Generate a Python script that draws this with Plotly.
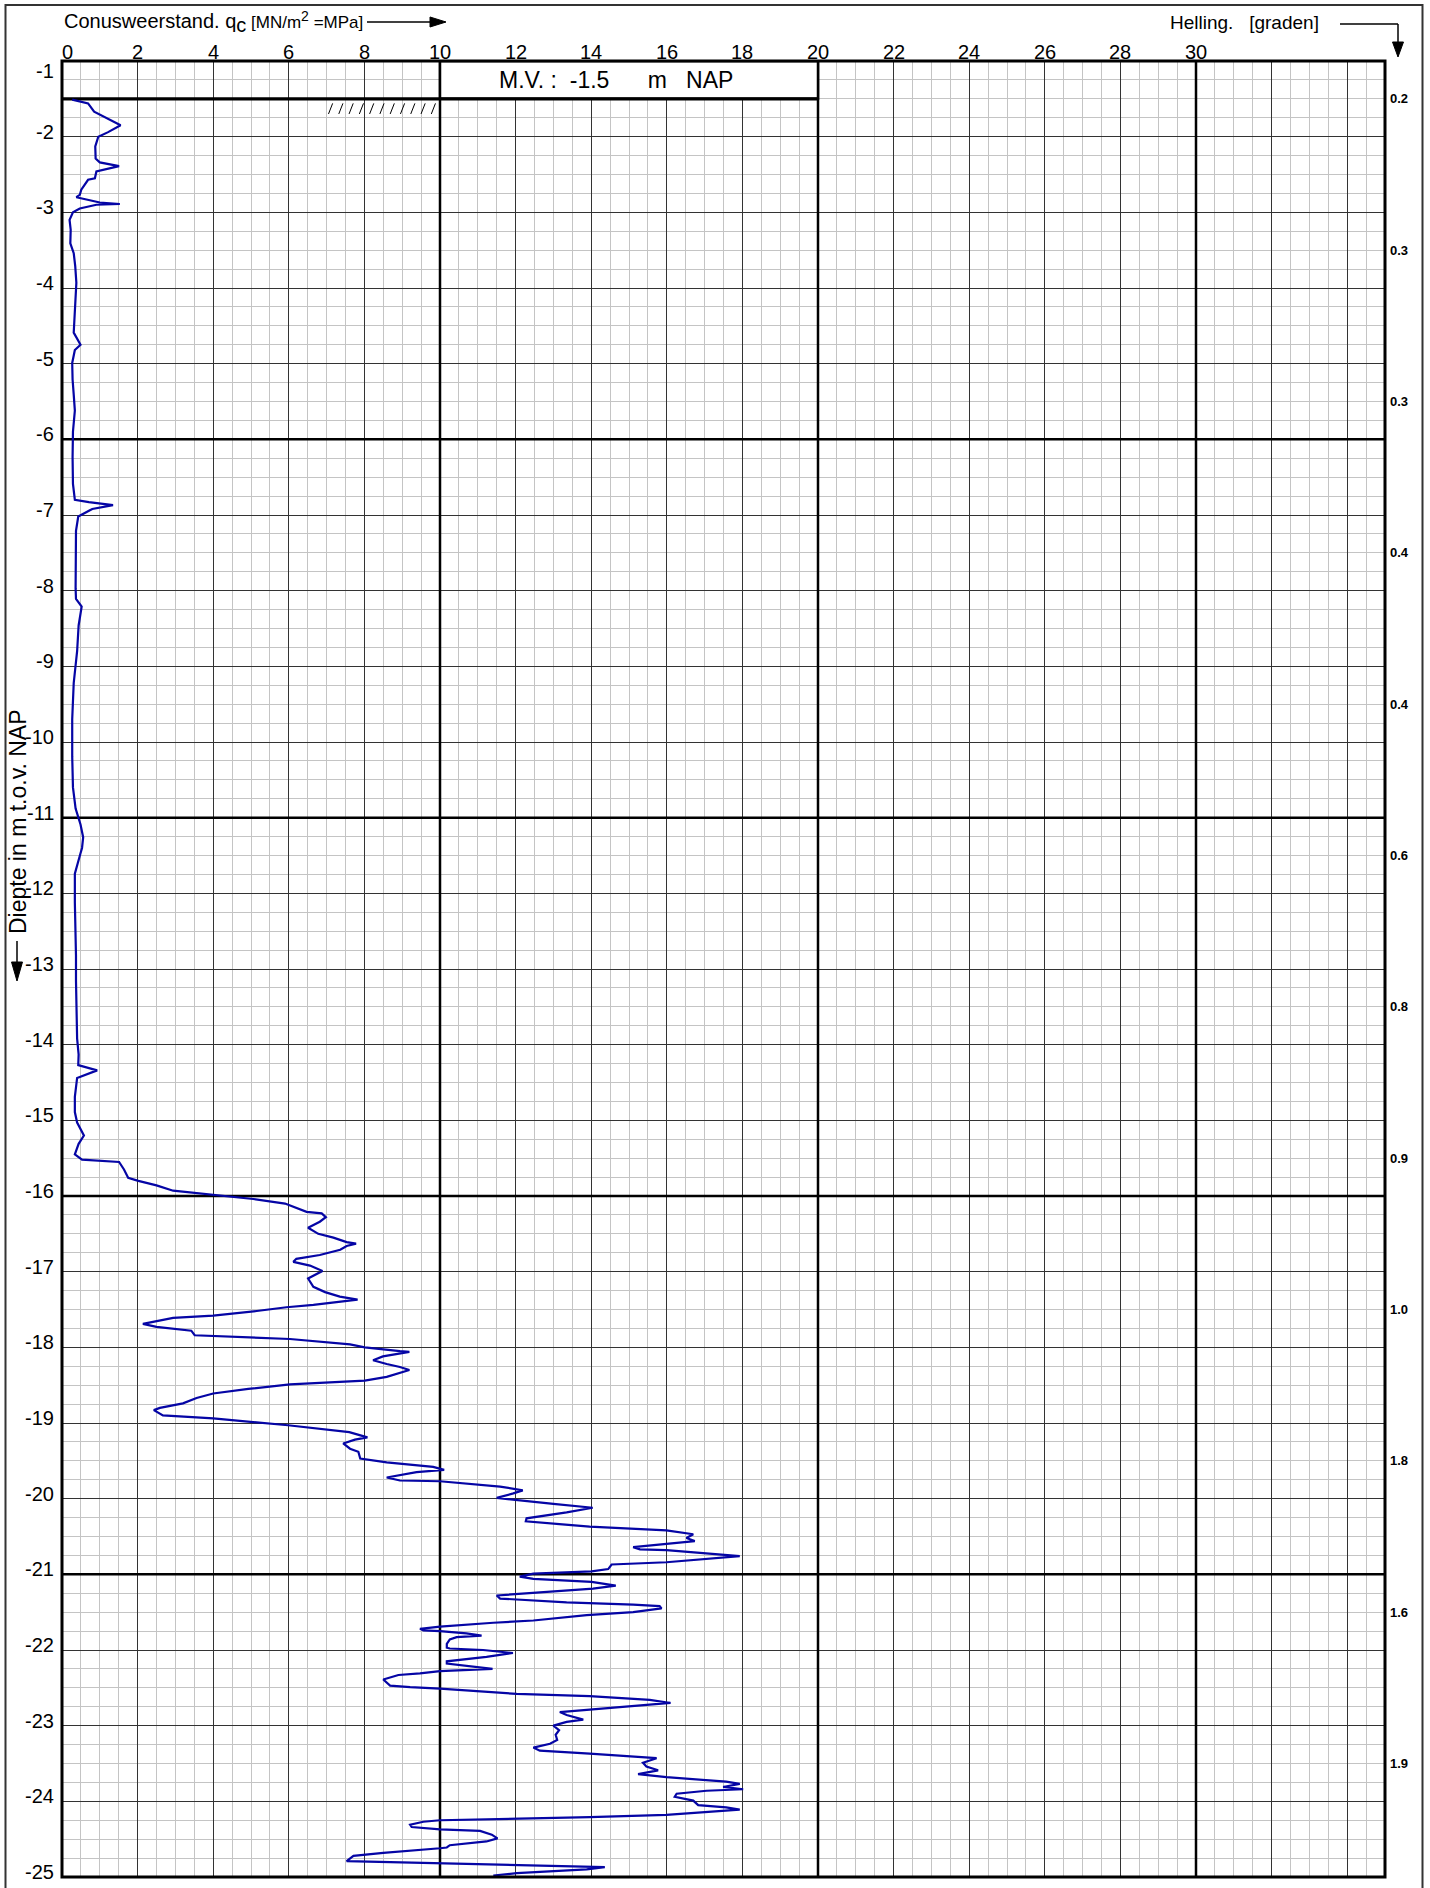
import plotly.graph_objects as go

# ---------------- data ----------------
depth = [
    -1.51, -1.56, -1.67, -1.77, -1.85, -1.94, -2.00, -2.13, -2.29, -2.34, -2.39, -2.46,
    -2.55, -2.57, -2.64, -2.70, -2.77, -2.80, -2.87, -2.89, -2.90, -2.95, -3.00, -3.10,
    -3.23, -3.41, -3.54, -3.71, -3.93, -4.24, -4.59, -4.75, -4.82, -4.99,
    -5.21, -5.41, -5.62, -5.90, -6.24, -6.59, -6.80, -6.83, -6.87, -6.92, -7.02, -7.21,
    -7.63, -7.97, -8.11, -8.21, -8.46, -8.80, -9.22, -9.70, -10.19, -10.60, -10.88,
    -11.09, -11.26, -11.40, -11.47, -11.57, -11.74, -12.12, -12.47, -12.82, -13.16,
    -13.51, -13.92, -14.13, -14.27, -14.34, -14.44, -14.69, -14.89, -15.03, -15.20,
    -15.31, -15.45, -15.52, -15.55, -15.65, -15.76, -15.80, -15.86, -15.93, -15.99,
    -16.04, -16.10, -16.17, -16.21, -16.23, -16.28, -16.34, -16.42, -16.50, -16.55,
    -16.61, -16.63, -16.66, -16.71, -16.78, -16.83, -16.87, -16.92, -16.99, -17.09,
    -17.20, -17.27, -17.33, -17.37, -17.44, -17.47, -17.52, -17.58, -17.61, -17.69,
    -17.73, -17.78, -17.84, -17.85, -17.89, -17.96, -18.00, -18.05, -18.06, -18.12,
    -18.17, -18.22, -18.26, -18.30, -18.39, -18.44, -18.49, -18.55, -18.61, -18.67,
    -18.74, -18.80, -18.83, -18.90, -18.94, -19.03,
    -19.12, -19.19, -19.22, -19.27, -19.34, -19.38, -19.47, -19.52, -19.58, -19.62,
    -19.65, -19.72, -19.76, -19.77, -19.84, -19.89, -19.93, -19.99, -20.02, -20.07,
    -20.12, -20.18, -20.26, -20.30, -20.37, -20.42, -20.47, -20.52, -20.56, -20.62,
    -20.64, -20.67, -20.68, -20.76, -20.84, -20.87, -20.93, -20.96, -20.99, -21.03,
    -21.06, -21.10, -21.15,
    -21.19, -21.25, -21.28, -21.32, -21.37, -21.40, -21.42, -21.45, -21.50, -21.54,
    -21.61, -21.64, -21.69, -21.72, -21.74, -21.75, -21.78, -21.81, -21.83, -21.86,
    -21.92, -21.97, -21.98, -22.00, -22.04, -22.09, -22.15, -22.18, -22.22, -22.25,
    -22.28, -22.31, -22.33, -22.39, -22.47, -22.49, -22.51, -22.58, -22.61, -22.66,
    -22.70, -22.74, -22.78, -22.82, -22.86, -22.92, -22.95, -23.00,
    -23.06, -23.12, -23.19, -23.24, -23.29, -23.33, -23.37, -23.43, -23.49, -23.54,
    -23.59, -23.64, -23.68, -23.74, -23.77, -23.81, -23.84, -23.86, -23.90, -23.94,
    -23.99, -24.05, -24.08, -24.11, -24.18, -24.21, -24.25, -24.27, -24.31, -24.34,
    -24.37, -24.39, -24.44, -24.49, -24.53, -24.58, -24.61, -24.62, -24.68, -24.72,
    -24.79, -24.82, -24.84, -24.86, -24.87, -24.90, -24.95, -24.98,
]
qc = [
    0.27, 0.69, 0.85, 1.22, 1.55, 1.22, 0.96, 0.88, 0.89, 1.00, 1.51, 0.91,
    0.87, 0.69, 0.60, 0.51, 0.47, 0.38, 1.00, 1.53, 0.91, 0.47, 0.29, 0.20,
    0.23, 0.22, 0.31, 0.35, 0.38, 0.34, 0.31, 0.49, 0.34, 0.27,
    0.28, 0.31, 0.34, 0.29, 0.28, 0.29, 0.34, 0.71, 1.35, 0.80, 0.43, 0.37,
    0.36, 0.36, 0.37, 0.52, 0.44, 0.40, 0.31, 0.27, 0.27, 0.29, 0.36,
    0.49, 0.56, 0.53, 0.49, 0.43, 0.34, 0.34, 0.36, 0.37, 0.37,
    0.38, 0.40, 0.44, 0.43, 0.93, 0.40, 0.34, 0.34, 0.40, 0.58,
    0.44, 0.34, 0.53, 1.51, 1.64, 1.75, 2.02, 2.50, 2.94, 4.00,
    5.06, 5.90, 6.29, 6.47, 6.87, 6.98, 6.82, 6.51, 6.78, 7.18,
    7.53, 7.78, 7.53, 7.36, 6.82, 6.20, 6.12, 6.56, 6.89, 6.51,
    6.65, 6.96, 7.35, 7.82, 6.65, 5.94, 5.15, 4.00, 2.94, 2.14,
    2.50, 3.42, 3.51, 4.00, 6.03, 7.62, 8.01, 8.94, 9.19, 8.49,
    8.23, 8.59, 8.94, 9.19, 8.59, 8.01, 6.03, 4.93, 4.00, 3.56,
    3.20, 2.59, 2.43, 2.67, 4.00, 5.98,
    7.60, 8.08, 7.75, 7.44, 7.62, 7.84, 7.89, 8.59, 9.82, 10.11,
    9.38, 8.59, 8.94, 10.00, 11.59, 12.19, 11.94, 11.50, 12.03, 13.00,
    14.04, 13.35, 12.29, 12.27, 13.96, 15.99, 16.70, 16.52, 16.74, 15.55,
    15.11, 15.29, 15.99, 17.93, 15.99, 14.54, 14.45, 14.01, 12.47, 12.11,
    12.47, 14.01, 14.65,
    14.05, 12.47, 11.50, 11.59, 13.35, 15.11, 15.81, 15.86, 15.11, 13.88,
    12.47, 11.41, 10.00, 9.47, 9.56, 10.00, 10.70, 11.10, 10.44, 10.26,
    10.18, 10.18, 10.26, 11.14, 11.93, 11.23, 10.18, 10.18, 10.88, 11.39,
    10.00, 9.47, 8.90, 8.50, 8.68, 9.21, 10.00, 12.03, 13.96, 15.55,
    16.10, 15.11, 14.05, 13.17, 13.35, 13.79, 13.35, 13.00,
    13.15, 13.06, 13.10, 12.91, 12.47, 12.64, 13.96, 15.73, 15.37, 15.46,
    15.77, 15.24, 15.99, 17.57, 17.93, 17.49, 18.02, 17.05, 16.26, 16.21,
    16.70, 16.83, 17.57, 17.93, 15.99, 13.96, 10.00, 9.56, 9.21, 9.25,
    10.00, 11.06, 11.37, 11.52, 11.23, 10.26, 10.18, 10.00, 8.50, 7.71,
    7.53, 10.00, 12.11, 13.96, 14.36, 13.88, 12.03, 11.41,
]

x_tick_vals = [0, 2, 4, 6, 8, 10, 12, 14, 16, 18, 20, 22, 24, 26, 28, 30]
x_tick_labels = ["0", "2", "4", "6", "8", "10", "12", "14", "16", "18", "20",
                 "22", "24", "26", "28", "30"]
y_tick_vals = [-1, -2, -3, -4, -5, -6, -7, -8, -9, -10, -11, -12, -13, -14, -15,
               -16, -17, -18, -19, -20, -21, -22, -23, -24, -25]
helling_depth = [-1.5, -3.5, -5.5, -7.5, -9.5, -11.5, -13.5, -15.5, -17.5, -19.5,
                 -21.5, -23.5]
helling_vals = ["0.2", "0.3", "0.3", "0.4", "0.4", "0.6", "0.8", "0.9", "1.0",
                "1.8", "1.6", "1.9"]
mv_level = -1.5

# ---------------- layout helpers ----------------
W, H = 1430, 1888
L, R, T, B = 62, 45, 61, 11
PW, PH = W - L - R, H - T - B
FONT = "Liberation Sans, Arial, sans-serif"


def px(x):
    return (x - L) / PW


def py(y):
    return (H - B - y) / PH


fig = go.Figure()
fig.add_trace(go.Scatter(
    x=qc, y=depth, mode="lines",
    line=dict(color="#0505a5", width=2.2),
    hoverinfo="skip", showlegend=False,
))

fig.update_xaxes(
    range=[0, 35], side="top",
    tickmode="linear", tick0=0, dtick=2, showticklabels=False,
    ticks="", showline=False, zeroline=False,
    showgrid=True, gridcolor="#333333", gridwidth=1.2,
    minor=dict(tickmode="linear", tick0=0, dtick=0.5, showgrid=True,
               gridcolor="#c4c4c4", gridwidth=1),
)
fig.update_yaxes(
    range=[-25, -1], tickmode="linear", tick0=-1, dtick=1,
    showticklabels=False, ticks="", showline=False, zeroline=False,
    showgrid=True, gridcolor="#333333", gridwidth=1.2,
    minor=dict(tickmode="linear", tick0=-1, dtick=0.25, showgrid=True,
               gridcolor="#c4c4c4", gridwidth=1),
)

shapes = []
for xv in [10, 20, 30]:
    shapes.append(dict(type="line", xref="x", yref="y", x0=xv, x1=xv, y0=-25, y1=-1,
                       line=dict(color="black", width=2.5), layer="between"))
for yv in [-6, -11, -16, -21]:
    shapes.append(dict(type="line", xref="x", yref="y", x0=0, x1=35, y0=yv, y1=yv,
                       line=dict(color="black", width=2.5), layer="between"))
# M.V. box and ground level line
shapes.append(dict(type="rect", xref="x", yref="y", x0=10, x1=20, y0=mv_level, y1=-1,
                   fillcolor="white", line=dict(color="black", width=2.5), layer="between"))
shapes.append(dict(type="line", xref="x", yref="y", x0=0, x1=20, y0=mv_level, y1=mv_level,
                   line=dict(color="black", width=3.2), layer="between"))
# hatch under ground level
for i in range(11):
    hx = 7.05 + 0.272 * i
    shapes.append(dict(type="line", xref="x", yref="y", x0=hx, x1=hx + 0.11,
                       y0=mv_level - 0.20, y1=mv_level - 0.06,
                       line=dict(color="black", width=1), layer="between"))
# plot border
shapes.append(dict(type="rect", xref="paper", yref="paper", x0=0, x1=1, y0=0, y1=1,
                   line=dict(color="black", width=3), layer="above"))
# outer frame
shapes.append(dict(type="rect", xref="paper", yref="paper", x0=px(5.5), x1=px(1422.5),
                   y0=py(1900), y1=py(5), line=dict(color="#333333", width=2)))


def seg(x0, y0, x1, y1, w=1.5):
    shapes.append(dict(type="line", xref="paper", yref="paper", x0=px(x0), x1=px(x1),
                       y0=py(y0), y1=py(y1), line=dict(color="black", width=w)))


def tri(pts):
    path = "M " + " L ".join(f"{px(a):.5f},{py(b):.5f}" for a, b in pts) + " Z"
    shapes.append(dict(type="path", xref="paper", yref="paper", path=path,
                       fillcolor="black", line=dict(color="black", width=1)))


# arrow after the cone resistance title
seg(367, 22, 432, 22)
tri([(430, 17), (446, 22), (430, 27)])
# helling arrow (right then down)
seg(1340, 24, 1398, 24)
seg(1398, 24, 1398, 43)
tri([(1392.5, 42), (1403.5, 42), (1398, 57)])
# depth arrow (down)
seg(17, 941, 17, 964)
tri([(11.5, 962), (22.5, 962), (17, 981)])

ann = []
for v, t in zip(x_tick_vals, x_tick_labels):
    ann.append(dict(text=t, xref="x", yref="paper", x=v, y=1, xanchor="center",
                    yanchor="bottom", yshift=-4, xshift=(5 if v == 0 else 0),
                    showarrow=False, font=dict(family=FONT, size=20, color="black")))
for v in y_tick_vals:
    ann.append(dict(text=str(v), xref="paper", yref="y", x=0, y=v, xanchor="right",
                    yanchor="middle", xshift=-6, yshift=(-10 if v == -1 else 5),
                    showarrow=False, font=dict(family=FONT, size=20, color="black")))
for d, t in zip(helling_depth, helling_vals):
    ann.append(dict(text="<b>" + t + "</b>", xref="paper", yref="y", x=1, y=d,
                    xanchor="left", yanchor="middle", xshift=3, showarrow=False,
                    font=dict(family=FONT, size=13, color="black")))
ann.append(dict(
    text=("Conusweerstand. q<sub><span style='font-size:20px'>c</span></sub>"
          "<span style='font-size:17px'>\u00a0[MN/m<sup><span style='font-size:14px'>2</span></sup> =MPa]</span>"),
    xref="paper", yref="paper", x=px(62), y=py(22), xanchor="left",
    yanchor="middle", showarrow=False,
    font=dict(family=FONT, size=20, color="black")))
ann.append(dict(text="Helling.\u00a0\u00a0\u00a0[graden]", xref="paper", yref="paper",
                x=px(1168), y=py(22), xanchor="left", yanchor="middle", showarrow=False,
                font=dict(family=FONT, size=19, color="black")))
ann.append(dict(text="Diepte in m t.o.v. NAP", xref="paper", yref="paper",
                x=px(18), y=py(822), xanchor="center", yanchor="middle", textangle=-90,
                showarrow=False, font=dict(family=FONT, size=23, color="black")))
ann.append(dict(text="M.V. :\u00a0\u00a0" + str(mv_level) + "\u00a0\u00a0\u00a0\u00a0\u00a0\u00a0m\u00a0\u00a0\u00a0NAP",
                xref="x", yref="y", x=11.5, y=(mv_level - 1) / 2, xanchor="left",
                yanchor="middle", showarrow=False,
                font=dict(family=FONT, size=23, color="black")))

fig.update_layout(
    width=W, height=H, margin=dict(l=L, r=R, t=T, b=B, autoexpand=False),
    paper_bgcolor="white", plot_bgcolor="white",
    shapes=shapes, annotations=ann, showlegend=False,
    font=dict(family=FONT, color="black"),
)

fig.write_html("out.html", config={"displayModeBar": False},
               post_script="document.body.style.margin='0px';")
